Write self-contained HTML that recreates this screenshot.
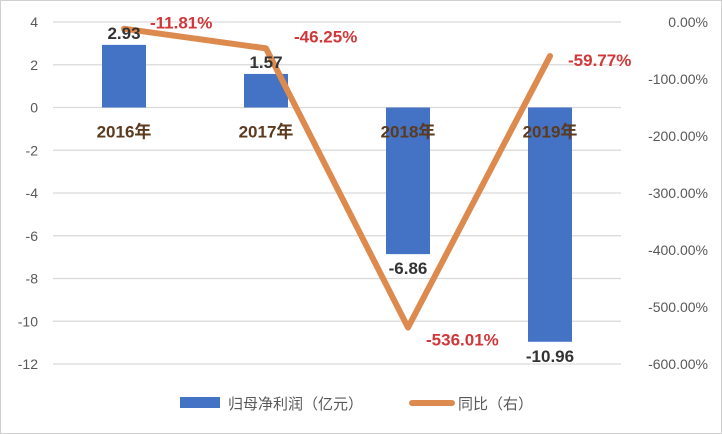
<!DOCTYPE html>
<html><head><meta charset="utf-8"><style>
body{margin:0;background:#fff}
svg{display:block;font-family:"Liberation Sans","Noto Sans CJK SC",sans-serif}
</style></head><body>
<svg id="c" width="722" height="434">
<rect x="0.5" y="0.5" width="721" height="433" fill="#fff" stroke="#d0d0d0"/>
<g id="grid"></g><g id="bars"></g><g id="line"></g><g id="labels"></g>
<g>
<rect x="180" y="397" width="40" height="11" fill="#4472c4"/>
<text x="228" y="409" font-size="15" fill="#595959">归母净利润（亿元）</text>
<line x1="412" y1="403" x2="452" y2="403" stroke="#dd8a4e" stroke-width="6" stroke-linecap="round"/>
<text x="458" y="409" font-size="15" fill="#595959">同比（右）</text>
</g>
</svg>
<script>
const categories=["2016年","2017年","2018年","2019年"];
const profit=[2.93,1.57,-6.86,-10.96];
const yoy=[-11.81,-46.25,-536.01,-59.77];
const leftTicks=[4,2,0,-2,-4,-6,-8,-10,-12];
const rightTicks=[0,-100,-200,-300,-400,-500,-600];
const NS="http://www.w3.org/2000/svg";
const x0=53,x1=621,yTop=22,yBot=364;
const yL=v=>yTop+(4-v)/16*(yBot-yTop);
const yR=v=>yTop+(0-v)/600*(yBot-yTop);
const xC=i=>x0+(i+0.5)*(x1-x0)/categories.length;
function mk(t,a,p,txt){const e=document.createElementNS(NS,t);for(const k in a)e.setAttribute(k,a[k]);if(txt!=null)e.textContent=txt;document.getElementById(p).appendChild(e);return e;}
leftTicks.forEach(v=>{
 const l=mk('line',{x1:x0,x2:x1,y1:yL(v),y2:yL(v),stroke:'#d9d9d9','stroke-width':1.2},'grid');
 
 
 const t=mk('text',{x:38,y:yL(v)+5,'text-anchor':'end','font-size':14,fill:'#595959'},'grid',String(v));
 
 
});
rightTicks.forEach(v=>{
 const t=mk('text',{x:708,y:yR(v)+5,'text-anchor':'end','font-size':14,fill:'#595959'},'grid',v.toFixed(2)+'%');
 
 
});
profit.forEach((v,i)=>{
 const y=Math.min(yL(v),yL(0)),h=Math.abs(yL(v)-yL(0));
 const r=mk('rect',{x:xC(i)-22,y:y,width:44,height:h,fill:'#4472c4'},'bars');
 
 
 const ly=v>=0?yL(v)-6:yL(v)+20;
 const t=mk('text',{x:xC(i),y:ly,'text-anchor':'middle','font-size':17,'font-weight':'bold',fill:'#333'},'labels',v.toFixed(2));
 
 
 const c=mk('text',{x:xC(i),y:yL(0)+30,'text-anchor':'middle','font-size':17,'font-weight':'bold',fill:'#5b3a1e'},'labels',categories[i]);
 
 
});
const pts=yoy.map((v,i)=>xC(i)+','+yR(v)).join(' ');
const pl=mk('polyline',{points:pts,fill:'none',stroke:'#dd8a4e','stroke-width':6,'stroke-linejoin':'round','stroke-linecap':'round'},'line');


const offs=[[26,-6],[28,-12],[18,12],[18,4]];
yoy.forEach((v,i)=>{
 const t=mk('text',{x:xC(i)+offs[i][0],y:yR(v)+offs[i][1]+6,'font-size':17,'font-weight':'bold',fill:'#d0383a'},'labels',v.toFixed(2)+'%');
 
 
});
</script>
</body></html>
